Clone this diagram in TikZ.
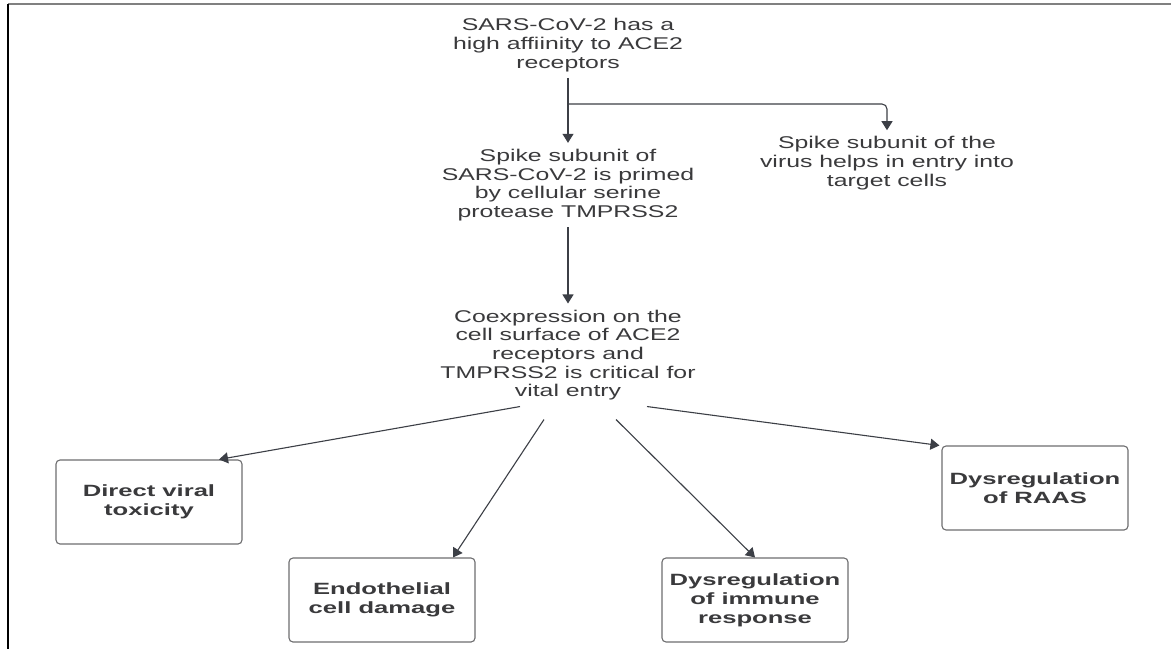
\documentclass[tikz,border=0pt]{standalone}
\usepackage{fontspec}
\setmainfont{Liberation Sans}[FakeStretch=1.46]
\newfontfamily\boxfont{Liberation Sans}[FakeStretch=1.57]
\usepackage{tikz}
\usetikzlibrary{positioning, arrows.meta}

\definecolor{txtgray}{RGB}{58,58,60}
\definecolor{arrgray}{RGB}{60,63,70}
\definecolor{boxgray}{RGB}{110,110,112}

\begin{document}
\begin{tikzpicture}[x=1pt,y=-1pt,
    arr/.style={-{Triangle[length=9pt,width=11pt]}, draw=arrgray, line width=1.1pt},
    plain/.style={align=center, text=txtgray, inner sep=6pt,
        font=\fontsize{17}{18.7}\selectfont},
    effect/.style={draw=boxgray, line width=1.1pt, rounded corners=4pt,
        minimum width=186pt, minimum height=84pt, align=center, text=txtgray,
        font=\boxfont\bfseries\fontsize{16.3}{19}\selectfont},
  ]

    \useasboundingbox (0,0) rectangle (1171,649);
    \fill[white] (0,0) rectangle (1171,649);

    % frame
    \draw[gray, line width=2.4pt] (8,4) -- (1171,4);
    \draw[black, line width=1.6pt] (8,4) -- (8,649);

    % chain in the middle
    \node[plain] (aff) at (568,45) {SARS-CoV-2 has a\\high affiinity to ACE2\\receptors};
    \node[plain] (prim) at (568,185) {Spike subunit of\\SARS-CoV-2 is primed\\by cellular serine\\protease TMPRSS2};
    \node[plain] (entry) at (887,163) {Spike subunit of the\\virus helps in entry into\\target cells};
    \node[plain] (coexp) at (568,355) {Coexpression on the\\cell surface of ACE2\\receptors and\\TMPRSS2 is critical for\\vital entry};

    \coordinate (split) at (568,104);

    \draw[arr] (aff.south) -- (prim.north);
    \draw[arr, rounded corners=5pt] (split) -| (entry.north);
    \draw[arr] (prim.south) -- (coexp.north);

    % the four effects
    \node[effect] (tox) at (149,502) {Direct viral\\toxicity};
    \node[effect] (endo) at (382,600) {Endothelial\\cell damage};
    \node[effect] (immune) at (755,600) {Dysregulation\\of immune\\response};
    \node[effect] (raas) at (1035,488) {Dysregulation\\of RAAS};

    \draw[arr] ([xshift=-48pt]coexp.south) -- ([xshift=70pt]tox.north);
    \draw[arr] ([xshift=-24pt,yshift=-13pt]coexp.south) -- ([xshift=71pt]endo.north);
    \draw[arr] ([xshift=48pt,yshift=-13pt]coexp.south) -- (immune.north);
    \draw[arr] ([xshift=79pt]coexp.south) -- ([xshift=-2pt]raas.north west);

\end{tikzpicture}
\end{document}
